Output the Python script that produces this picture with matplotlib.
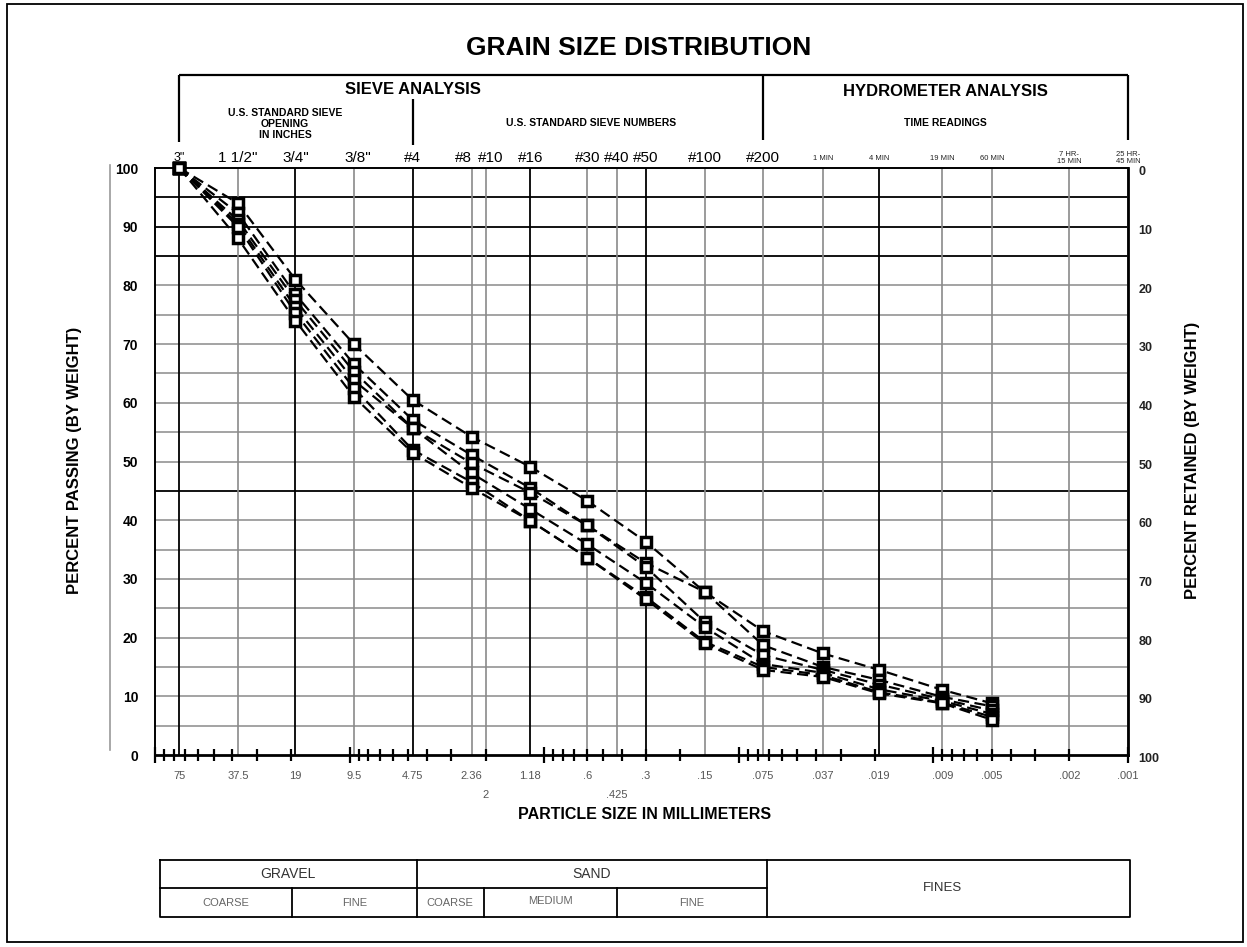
import matplotlib
matplotlib.use('Agg')
import matplotlib.pyplot as plt
import numpy as np
from matplotlib.transforms import blended_transform_factory as btf, offset_copy
from matplotlib.ticker import LogLocator, NullFormatter
from matplotlib.patches import Rectangle

plt.rcParams['font.family'] = ['Liberation Sans', 'DejaVu Sans']

# ---------------- data ----------------
sizes_mm = [75, 37.5, 19, 9.5, 4.75, 2.36, 1.18, 0.6, 0.3, 0.15, 0.075, 0.037, 0.019, 0.009, 0.005]

sample_1 = [100, 94.0, 81.0, 70.0, 60.5, 54.2, 49.1, 43.3, 36.3, 27.8, 21.1, 17.3, 14.5, 11.1, 8.8]
sample_2 = [100, 92.3, 78.5, 66.6, 57.1, 51.1, 45.5, 39.1, 32.7, 27.8, 18.7, 15.0, 12.8, 9.9, 8.3]
sample_3 = [100, 91.1, 77.5, 65.3, 55.7, 49.7, 44.7, 39.1, 32.0, 22.7, 17.0, 14.5, 12.0, 9.5, 7.6]
sample_4 = [100, 90.5, 76.3, 63.8, 55.7, 48.0, 41.9, 35.9, 29.3, 21.8, 15.5, 14.0, 11.2, 9.2, 7.0]
sample_5 = [100, 90.0, 75.3, 62.5, 52.0, 46.5, 39.9, 33.6, 26.9, 19.3, 15.0, 13.6, 10.7, 8.9, 6.5]
sample_6 = [100, 88.0, 74.0, 61.0, 51.5, 45.5, 39.9, 33.6, 26.5, 19.0, 14.5, 13.3, 10.5, 8.8, 6.0]
samples = [sample_1, sample_2, sample_3, sample_4, sample_5, sample_6]

grid_sizes = [75, 37.5, 19, 9.5, 4.75, 2.36, 2, 1.18, 0.6, 0.425, 0.3, 0.15, 0.075,
              0.037, 0.019, 0.009, 0.005, 0.002, 0.001]
dark_sizes = [75, 19, 4.75, 1.18, 0.3, 0.019]

top_labels = ['3"', '1 1/2"', '3/4"', '3/8"', '#4', '#8', '#10', '#16', '#30', '#40', '#50',
              '#100', '#200']
top_label_sizes = [75, 37.5, 19, 9.5, 4.75, 2.36, 2, 1.18, 0.6, 0.425, 0.3, 0.15, 0.075]
time_labels = ['1 MIN', '4 MIN', '19 MIN', '60 MIN', '7 HR-\n15 MIN', '25 HR-\n45 MIN']
time_label_sizes = [0.037, 0.019, 0.009, 0.005, 0.002, 0.001]

mm_labels = ['75', '37.5', '19', '9.5', '4.75', '2.36', '1.18', '.6', '.3', '.15', '.075',
             '.037', '.019', '.009', '.005', '.002', '.001']
mm_label_sizes = [75, 37.5, 19, 9.5, 4.75, 2.36, 1.18, 0.6, 0.3, 0.15, 0.075,
                  0.037, 0.019, 0.009, 0.005, 0.002, 0.001]
mm_labels_low = ['2', '.425']
mm_label_low_sizes = [2, 0.425]

y_ticks = list(range(0, 101, 10))

# ---------------- figure ----------------
W, H = 1247, 947
fig = plt.figure(figsize=(W / 100, H / 100), dpi=100)
L, R, T, B = 155, 1128, 168, 755
ax = fig.add_axes([L / W, 1 - B / H, (R - L) / W, (B - T) / H])
ov = fig.add_axes([0, 0, 1, 1], zorder=-1)
ov.set_xlim(0, W)
ov.set_ylim(H, 0)
ov.axis('off')
xmix = btf(ax.transData, ov.transData)

ax.set_xscale('log')
ax.set_xlim(100, 0.001)
ax.set_ylim(0, 100)

# grid
for p in range(5, 100, 5):
    dark = p in (95, 90, 85, 45)
    ax.axhline(p, color='black' if dark else '#8a8a8a', lw=1.3 if dark else 1.1, zorder=1)
for s in grid_sizes:
    dark = s in dark_sizes
    ax.axvline(s, color='black' if dark else '#8a8a8a', lw=1.3 if dark else 1.2, zorder=1)

# ticks
ax.xaxis.set_major_locator(LogLocator(base=10, numticks=12))
ax.xaxis.set_minor_locator(LogLocator(base=10, subs=np.arange(2, 10), numticks=12))
ax.xaxis.set_major_formatter(NullFormatter())
ax.xaxis.set_minor_formatter(NullFormatter())
ax.tick_params(axis='x', which='major', direction='inout', length=11, width=1.6, color='black')
ax.tick_params(axis='x', which='minor', direction='inout', length=9, width=1.6, color='black')
ax.set_yticks(y_ticks)
ax.set_yticklabels([str(v) for v in y_ticks], fontweight='bold', fontsize=10)
ax.tick_params(axis='y', length=0, pad=12)

for sp in ax.spines.values():
    sp.set_color('black')
    sp.set_linewidth(1.4)
ax.spines['bottom'].set_linewidth(2.0)
ax.spines['right'].set_linewidth(2.0)

# right-hand labels (percent retained)
rtrans = btf(ax.transAxes, ax.transData)
for v in y_ticks:
    ax.text(1.011, v - 0.7, str(100 - v), transform=rtrans, ha='left', va='center',
            fontsize=9, fontweight='bold', color='#222222')

# data
for s in samples:
    ax.plot(sizes_mm, s, ls=(0, (5, 2.5)), color='black', lw=1.6, marker='s', ms=7,
            mfc='white', mec='black', mew=2.5, clip_on=False, zorder=5)

# top sieve labels
shift_px = {'#8': -8, '#10': 5, '3/8"': 4}
for lab, s in zip(top_labels, top_label_sizes):
    tr = offset_copy(xmix, fig=fig, x=shift_px.get(lab, 0), y=0, units='dots')
    fs = 9 if lab == '3"' else 11
    ov.text(s, 158, lab, transform=tr, ha='center', va='center', fontsize=fs)
for lab, s in zip(time_labels, time_label_sizes):
    ov.text(s, 158, lab, transform=xmix, ha='center', va='center', fontsize=5.5,
            linespacing=1.0, color='#222222')

# bottom size labels
for lab, s in zip(mm_labels, mm_label_sizes):
    ov.text(s, 776, lab, transform=xmix, ha='center', va='center', fontsize=8, color='#555555')
for lab, s in zip(mm_labels_low, mm_label_low_sizes):
    ov.text(s, 795, lab, transform=xmix, ha='center', va='center', fontsize=8, color='#555555')

# axis titles
ov.text(75, 460, 'PERCENT PASSING (BY WEIGHT)', rotation=90, ha='center', va='center',
        fontsize=12, fontweight='bold')
ov.text(1192, 460, 'PERCENT RETAINED (BY WEIGHT)', rotation=90, ha='center', va='center',
        fontsize=12, fontweight='bold')
ov.text(645, 814, 'PARTICLE SIZE IN MILLIMETERS', ha='center', va='center',
        fontsize=11.5, fontweight='bold')
ov.text(639, 48, 'GRAIN SIZE DISTRIBUTION', ha='center', va='center', fontsize=19,
        fontweight='bold')

# header brackets
lk = dict(color='black', lw=1.6, solid_capstyle='butt')
ov.plot([75, 0.001], [75, 75], transform=xmix, **lk)
ov.plot([75, 75], [75, 142], transform=xmix, **lk)
ov.plot([4.75, 4.75], [99, 145], transform=xmix, **lk)
ov.plot([0.075, 0.075], [75, 140], transform=xmix, **lk)
ov.plot([0.001, 0.001], [75, 140], transform=xmix, **lk)
ov.text(413, 89, 'SIEVE ANALYSIS', ha='center', va='center', fontsize=12, fontweight='bold')
ov.text(945, 91, 'HYDROMETER ANALYSIS', ha='center', va='center', fontsize=12, fontweight='bold')
ov.text(285, 124, 'U.S. STANDARD SIEVE\nOPENING\nIN INCHES', ha='center', va='center',
        fontsize=7.5, fontweight='bold', linespacing=1.15)
ov.text(591, 123, 'U.S. STANDARD SIEVE NUMBERS', ha='center', va='center', fontsize=7.5,
        fontweight='bold')
ov.text(945, 123, 'TIME READINGS', ha='center', va='center', fontsize=7.5, fontweight='bold')

# stray left rule
ov.plot([110, 110], [165, 750], color='#9a9a9a', lw=1.2)

# classification table
tk = dict(color='black', lw=1.3)
x0, x1 = 160, 1130
y0, ym, y1 = 860, 888, 917
ov.plot([x0, x1, x1, x0, x0], [y0, y0, y1, y1, y0], **tk)
ov.plot([x0, 767], [ym, ym], **tk)
for xv in (417, 767):
    ov.plot([xv, xv], [y0, y1], **tk)
for xv in (292, 484, 617):
    ov.plot([xv, xv], [ym, y1], **tk)
tc = '#333333'
ov.text(288, 874, 'GRAVEL', ha='center', va='center', fontsize=10, color=tc)
ov.text(592, 874, 'SAND', ha='center', va='center', fontsize=10, color=tc)
ov.text(942, 888, 'FINES', ha='center', va='center', fontsize=9.5, color=tc)
lc = '#666666'
ov.text(226, 903, 'COARSE', ha='center', va='center', fontsize=8, color=lc)
ov.text(355, 903, 'FINE', ha='center', va='center', fontsize=8, color=lc)
ov.text(450, 903, 'COARSE', ha='center', va='center', fontsize=8, color=lc)
ov.text(550, 901, 'MEDIUM', ha='center', va='center', fontsize=8, color=lc)
ov.text(692, 903, 'FINE', ha='center', va='center', fontsize=8, color=lc)

# page border
ov.add_patch(Rectangle((7, 4), 1236, 938, fill=False, lw=1.3, edgecolor='black'))

fig.savefig('out.png', dpi=100)
